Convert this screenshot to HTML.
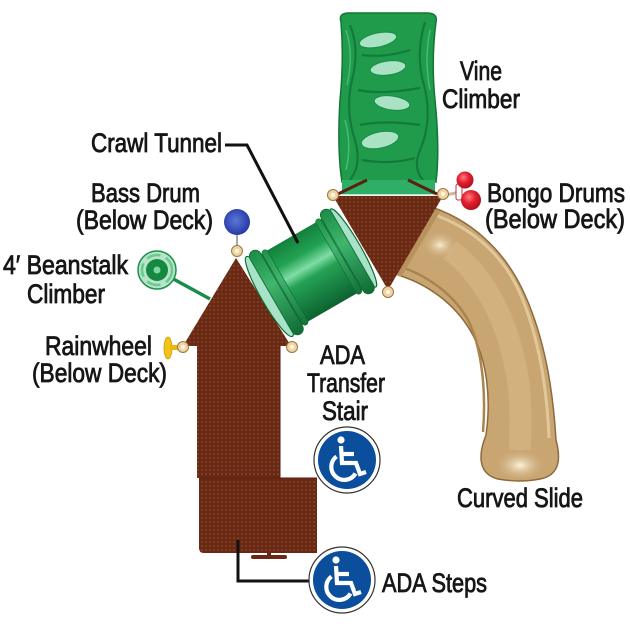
<!DOCTYPE html>
<html><head><meta charset="utf-8"><style>
html,body{margin:0;padding:0;background:#fff;}
svg{display:block;}
.t{font-family:"Liberation Sans Narrow","Liberation Sans",sans-serif;font-size:27px;fill:#161616;stroke:#161616;stroke-width:0.85px;}
</style></head><body>
<svg width="630" height="630" viewBox="0 0 630 630" xmlns="http://www.w3.org/2000/svg">
<defs>
  <pattern id="dots" width="4" height="4" patternUnits="userSpaceOnUse">
    <circle cx="2" cy="2" r="0.6" fill="#d9a07a" opacity="0.55"/>
  </pattern>
  <linearGradient id="tun" x1="0" y1="-41" x2="0" y2="41" gradientUnits="userSpaceOnUse">
    <stop offset="0" stop-color="#13803c"/>
    <stop offset="0.25" stop-color="#22a252"/>
    <stop offset="0.42" stop-color="#7fdca5"/>
    <stop offset="0.55" stop-color="#25a255"/>
    <stop offset="1" stop-color="#0c6230"/>
  </linearGradient>
  <linearGradient id="rim" x1="0" y1="-48" x2="0" y2="48" gradientUnits="userSpaceOnUse">
    <stop offset="0" stop-color="#1a8c45"/>
    <stop offset="0.4" stop-color="#3fb56d"/>
    <stop offset="1" stop-color="#0e6a33"/>
  </linearGradient>
  <radialGradient id="blue" cx="0.45" cy="0.45" r="0.6">
    <stop offset="0" stop-color="#5a78d8"/>
    <stop offset="1" stop-color="#2233a0"/>
  </radialGradient>
  <radialGradient id="red" cx="0.4" cy="0.35" r="0.65">
    <stop offset="0" stop-color="#ff7a80"/>
    <stop offset="0.5" stop-color="#e3202e"/>
    <stop offset="1" stop-color="#b01020"/>
  </radialGradient>
  <radialGradient id="slideEnd" cx="0.5" cy="0.6" r="0.5">
    <stop offset="0" stop-color="#fdf3dc"/>
    <stop offset="1" stop-color="#cdaa78" stop-opacity="0"/>
  </radialGradient>
  <radialGradient id="slideTop" cx="0.5" cy="0.5" r="0.5">
    <stop offset="0" stop-color="#f8ead0"/>
    <stop offset="1" stop-color="#cdaa78" stop-opacity="0"/>
  </radialGradient>
</defs>

<!-- Vine climber -->
<path d="M341,22 Q338,13 349,13 L427,13 Q438,13 436,22 Q431,60 435,100 Q440,150 436,182 L342,182 Q337,150 340,100 Q344,60 341,22 Z" fill="#1f9b4b" stroke="#127536" stroke-width="1.5"/>
<g fill="none" stroke="#137538" stroke-width="2.2" opacity="0.85">
  <path d="M350,25 Q360,50 352,80 Q345,110 355,140 Q362,165 350,180"/>
  <path d="M425,22 Q415,55 424,85 Q433,120 420,150 Q412,170 425,182"/>
  <path d="M362,55 Q385,58 410,50"/>
  <path d="M358,90 Q380,95 420,88"/>
  <path d="M360,125 Q385,120 420,125"/>
  <path d="M362,160 Q390,165 415,158"/>
</g>
<g fill="none" stroke="#4fc47e" stroke-width="1.5" opacity="0.8">
  <path d="M346,30 Q354,55 347,85"/>
  <path d="M430,30 Q424,60 430,90"/>
  <path d="M345,120 Q352,145 346,170"/>
</g>
<g fill="#a9e3c4" stroke="#1b8a47" stroke-width="1">
  <ellipse cx="378" cy="40" rx="19" ry="7" transform="rotate(-12 378 40)"/>
  <ellipse cx="388" cy="68" rx="18" ry="7" transform="rotate(-8 388 68)"/>
  <ellipse cx="392" cy="103" rx="18" ry="7" transform="rotate(8 392 103)"/>
  <ellipse cx="380" cy="140" rx="19" ry="8" transform="rotate(-12 380 140)"/>
</g>
<rect x="342" y="180" width="93" height="15" fill="#2fae66"/>
<line x1="342" y1="195" x2="435" y2="195" stroke="#e8f6ee" stroke-width="1.5"/>
<line x1="338" y1="194" x2="367" y2="180" stroke="#5a2010" stroke-width="3"/>
<line x1="437" y1="194" x2="408" y2="180" stroke="#5a2010" stroke-width="3"/>

<!-- Curved slide -->
<path d="M425,205 C470,218 505,250 525,295 C545,340 553,390 556,440 C560,455 562,475 540,479 Q520,483 498,479 C478,474 478,455 486,435 C491,400 488,360 470,330 C455,305 430,285 398,275 Z" fill="#c9a572" stroke="#8d6a3c" stroke-width="1.5"/>
<path d="M432,214 C474,228 506,258 522,298 C540,342 547,390 549,438" fill="none" stroke="#e0c89a" stroke-width="3"/>
<path d="M404,268 C432,278 456,298 468,320 C483,350 486,395 483,432" fill="none" stroke="#a9844f" stroke-width="2.5"/>
<path d="M450,250 C490,280 510,330 518,380 C522,410 520,430 520,450" fill="none" stroke="#d9bc8b" stroke-width="22" opacity="0.55"/>
<ellipse cx="520" cy="462" rx="26" ry="16" fill="url(#slideEnd)"/>
<ellipse cx="440" cy="245" rx="18" ry="14" fill="url(#slideTop)"/>
<path d="M437,212 L400,274" stroke="#b7925d" stroke-width="5" stroke-linecap="round"/>

<!-- Right triangle deck -->
<path d="M333,196 L443,196 L388,290 Z" fill="#6a2913"/>
<path d="M333,196 L443,196 L388,290 Z" fill="url(#dots)"/>

<!-- Left deck -->
<path d="M236,258 L291,346 L280,346 L280,478 L317,478 L317,553 L204,553 Q199,553 199,548 L199,478 L197,478 L197,346 L183,346 Z" fill="#6a2913"/>
<path d="M236,258 L291,346 L280,346 L280,478 L317,478 L317,553 L204,553 Q199,553 199,548 L199,478 L197,478 L197,346 L183,346 Z" fill="url(#dots)"/>
<line x1="280" y1="346" x2="280" y2="478" stroke="#561e0c" stroke-width="1"/>
<line x1="199" y1="478" x2="317" y2="478" stroke="#561e0c" stroke-width="1"/>
<rect x="251" y="555" width="36" height="4" rx="2" fill="#6a2913"/>
<rect x="267" y="552" width="4" height="5" fill="#6a2913"/>

<!-- Crawl tunnel -->
<g transform="translate(272,295) rotate(-30)">
  <rect x="4" y="-41" width="84" height="82" fill="url(#tun)"/>
  <ellipse cx="-3" cy="0" rx="8" ry="46" fill="#a8e2c8" stroke="#0f6a33" stroke-width="1.2"/>
  <rect x="-1" y="-48" width="12" height="96" rx="6" fill="url(#rim)" stroke="#0f6a33" stroke-width="0.8"/>
  <rect x="12" y="-43" width="6" height="86" rx="3" fill="url(#rim)" stroke="#0f6a33" stroke-width="0.6"/>
  <rect x="74" y="-43" width="6" height="86" rx="3" fill="url(#rim)" stroke="#0f6a33" stroke-width="0.6"/>
  <ellipse cx="94" cy="0" rx="7" ry="45" fill="#a8e2c8" stroke="#0f6a33" stroke-width="1.2"/>
  <rect x="81" y="-48" width="12" height="96" rx="6" fill="url(#rim)" stroke="#0f6a33" stroke-width="0.8"/>
</g>

<!-- Beanstalk climber -->
<line x1="157" y1="270" x2="210" y2="299" stroke="#1a8c4a" stroke-width="3.5"/>
<circle cx="157" cy="270" r="19" fill="#b7e4c6" stroke="#1e8f4c" stroke-width="1.5"/>
<circle cx="157" cy="270" r="15" fill="none" stroke="#6cc891" stroke-width="2.5" stroke-dasharray="14 6"/>
<circle cx="157" cy="270" r="11" fill="#14893f"/>
<circle cx="157" cy="270" r="3.5" fill="#7fd4a0"/>

<!-- Bass drum -->
<circle cx="237" cy="222" r="13" fill="url(#blue)"/>
<line x1="237" y1="235" x2="237" y2="246" stroke="#888" stroke-width="1.5"/>

<!-- Rainwheel -->
<ellipse cx="168" cy="348" rx="4" ry="11" fill="#f4c31a" stroke="#c99a00" stroke-width="0.8"/>
<rect x="170" y="345" width="8" height="5" fill="#e8b810"/>

<!-- Bongo drums -->
<line x1="446" y1="195" x2="460" y2="192" stroke="#c9b9a0" stroke-width="3"/>
<rect x="456" y="184" width="6" height="16" rx="2" fill="#fff" stroke="#c03040" stroke-width="1"/>
<circle cx="465" cy="180" r="8.5" fill="url(#red)"/>
<circle cx="471" cy="200" r="10" fill="url(#red)"/>

<!-- Clamps -->
<g fill="#f0d3a2" stroke="#9c7642" stroke-width="1">
  <circle cx="237" cy="251" r="5.5"/>
  <circle cx="183" cy="347" r="5.5"/>
  <circle cx="292" cy="347" r="5.5"/>
  <circle cx="333" cy="195" r="5.5"/>
  <circle cx="443" cy="194" r="5.5"/>
  <circle cx="388" cy="292" r="5.5"/>
</g>
<g fill="#fff6e0">
  <circle cx="237" cy="251" r="2.2"/>
  <circle cx="183" cy="347" r="2.2"/>
  <circle cx="292" cy="347" r="2.2"/>
  <circle cx="333" cy="195" r="2.2"/>
  <circle cx="443" cy="194" r="2.2"/>
  <circle cx="388" cy="292" r="2.2"/>
</g>

<!-- Leader lines -->
<polyline points="225,145 247,145 298,243" fill="none" stroke="#111" stroke-width="3"/>
<polyline points="238,540 238,581 310,581" fill="none" stroke="#111" stroke-width="3"/>

<!-- Wheelchair icons -->
<g transform="translate(347,460)">
  <circle r="33" fill="#fff" stroke="#333" stroke-width="1.2"/>
  <circle r="29" fill="#0b4f9c"/>
  <g fill="none" stroke="#fff" stroke-width="4.2">
    <path d="M-6,-14 L-5,3 L9,3 L13,14 L19,12"/>
    <path d="M-6,-6 L7,-6"/>
    <path d="M-10.5,-3.5 A13,13 0 1 0 8.5,13.5"/>
  </g>
  <circle cx="-6" cy="-20" r="3.6" fill="#fff"/>
</g>
<g transform="translate(342,580)">
  <circle r="33" fill="#fff" stroke="#333" stroke-width="1.2"/>
  <circle r="29" fill="#0b4f9c"/>
  <g fill="none" stroke="#fff" stroke-width="4.2">
    <path d="M-6,-14 L-5,3 L9,3 L13,14 L19,12"/>
    <path d="M-6,-6 L7,-6"/>
    <path d="M-10.5,-3.5 A13,13 0 1 0 8.5,13.5"/>
  </g>
  <circle cx="-6" cy="-20" r="3.6" fill="#fff"/>
</g>

<!-- Labels -->
<text class="t" x="460" y="80" textLength="42" lengthAdjust="spacingAndGlyphs">Vine</text>
<text class="t" x="442" y="108" textLength="78" lengthAdjust="spacingAndGlyphs">Climber</text>
<text class="t" x="91" y="152" textLength="131" lengthAdjust="spacingAndGlyphs">Crawl Tunnel</text>
<text class="t" x="91" y="202" textLength="109" lengthAdjust="spacingAndGlyphs">Bass Drum</text>
<text class="t" x="76" y="229" textLength="137" lengthAdjust="spacingAndGlyphs">(Below Deck)</text>
<text class="t" x="3" y="274" textLength="125" lengthAdjust="spacingAndGlyphs">4′ Beanstalk</text>
<text class="t" x="27" y="303" textLength="78" lengthAdjust="spacingAndGlyphs">Climber</text>
<text class="t" x="45" y="355" textLength="107" lengthAdjust="spacingAndGlyphs">Rainwheel</text>
<text class="t" x="32" y="382" textLength="135" lengthAdjust="spacingAndGlyphs">(Below Deck)</text>
<text class="t" x="487" y="202" textLength="138" lengthAdjust="spacingAndGlyphs">Bongo Drums</text>
<text class="t" x="485" y="228" textLength="140" lengthAdjust="spacingAndGlyphs">(Below Deck)</text>
<text class="t" x="320" y="364" textLength="45" lengthAdjust="spacingAndGlyphs">ADA</text>
<text class="t" x="307" y="392" textLength="78" lengthAdjust="spacingAndGlyphs">Transfer</text>
<text class="t" x="322" y="420" textLength="46" lengthAdjust="spacingAndGlyphs">Stair</text>
<text class="t" x="457" y="507" textLength="126" lengthAdjust="spacingAndGlyphs">Curved Slide</text>
<text class="t" x="382" y="592" textLength="105" lengthAdjust="spacingAndGlyphs">ADA Steps</text>
</svg>
</body></html>
